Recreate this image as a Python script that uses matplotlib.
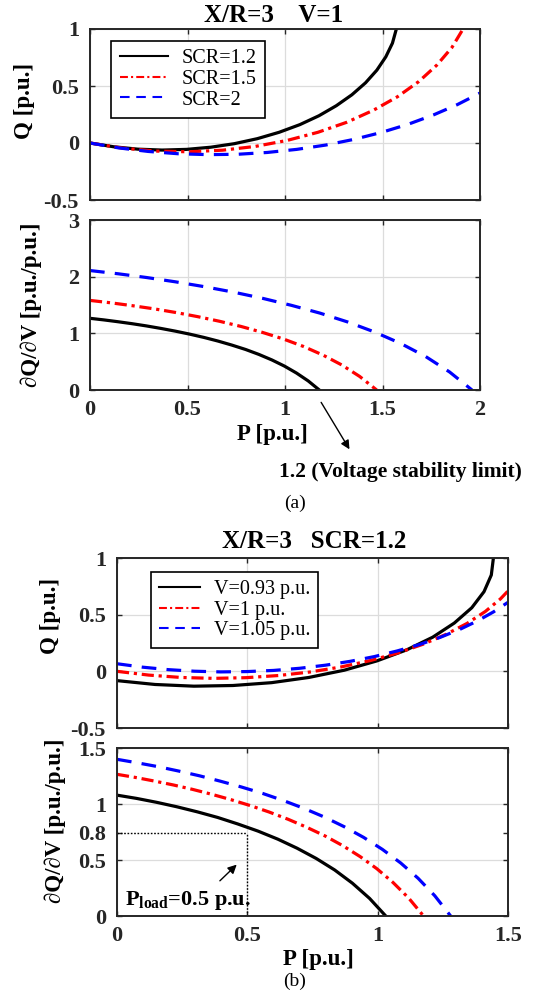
import matplotlib
matplotlib.use("Agg")
import matplotlib.pyplot as plt

plt.rcParams['font.family'] = ['Liberation Serif', 'DejaVu Serif']
plt.rcParams['mathtext.fontset'] = 'custom'
plt.rcParams['mathtext.rm'] = 'Liberation Serif'
plt.rcParams['mathtext.bf'] = 'Liberation Serif:bold'
plt.rcParams['axes.unicode_minus'] = False

# ---------------- data (a): X/R=3, V=1 ----------------
scr_labels = ['SCR=1.2', 'SCR=1.5', 'SCR=2']
P_q_scr12 = [0.000, 0.121, 0.245, 0.370, 0.495, 0.619, 0.740, 0.858, 0.970, 1.076, 1.174, 1.263, 1.343, 1.413, 1.471, 1.517, 1.551, 1.571]
Q_scr12 = [0.000, -0.033, -0.054, -0.062, -0.056, -0.037, -0.006, 0.038, 0.094, 0.161, 0.239, 0.327, 0.423, 0.528, 0.639, 0.756, 0.876, 1.000]
P_q_scr15 = [0.000, 0.166, 0.336, 0.508, 0.680, 0.848, 1.012, 1.169, 1.317, 1.453, 1.577, 1.686, 1.779, 1.856, 1.913]
Q_scr15 = [0.000, -0.045, -0.071, -0.077, -0.063, -0.030, 0.023, 0.094, 0.182, 0.287, 0.406, 0.539, 0.684, 0.838, 1.000]
P_q_scr2 = [0.000, 0.147, 0.298, 0.450, 0.603, 0.756, 0.909, 1.060, 1.209, 1.354, 1.495, 1.631, 1.761, 1.884, 2.000]
Q_scr2 = [0.000, -0.043, -0.074, -0.094, -0.102, -0.099, -0.083, -0.056, -0.018, 0.032, 0.093, 0.164, 0.246, 0.337, 0.438]

P_d_scr12 = [0.000, 0.071, 0.143, 0.216, 0.289, 0.363, 0.437, 0.511, 0.584, 0.656, 0.727, 0.798, 0.866, 0.933, 0.997, 1.059, 1.119, 1.176]
D_scr12 = [1.265, 1.237, 1.205, 1.170, 1.131, 1.087, 1.039, 0.986, 0.928, 0.864, 0.793, 0.715, 0.628, 0.530, 0.422, 0.299, 0.160, 0.000]
P_d_scr15 = [0.000, 0.108, 0.217, 0.329, 0.441, 0.553, 0.664, 0.775, 0.884, 0.991, 1.095, 1.195, 1.291, 1.383, 1.470]
D_scr15 = [1.581, 1.538, 1.488, 1.432, 1.367, 1.294, 1.213, 1.121, 1.017, 0.901, 0.768, 0.616, 0.442, 0.239, 0.000]
P_d_scr2 = [0.000, 0.144, 0.290, 0.438, 0.587, 0.737, 0.886, 1.033, 1.179, 1.321, 1.459, 1.593, 1.722, 1.844, 1.959]
D_scr2 = [2.108, 2.051, 1.985, 1.909, 1.823, 1.726, 1.617, 1.494, 1.357, 1.201, 1.024, 0.822, 0.589, 0.318, 0.000]

# ---------------- data (b): X/R=3, SCR=1.2 ----------------
v_labels = ['V=0.93 p.u.', 'V=1 p.u.', 'V=1.05 p.u.']
P_q_v093 = [0.000, 0.146, 0.295, 0.445, 0.593, 0.736, 0.872, 0.997, 1.111, 1.211, 1.294, 1.361, 1.408, 1.436, 1.444]
Q_v093 = [-0.082, -0.116, -0.131, -0.125, -0.100, -0.054, 0.010, 0.092, 0.189, 0.301, 0.426, 0.561, 0.703, 0.850, 1.000]
P_q_v100 = [0.000, 0.121, 0.245, 0.370, 0.495, 0.619, 0.740, 0.858, 0.970, 1.076, 1.174, 1.263, 1.343, 1.413, 1.471, 1.500]
Q_v100 = [0.000, -0.033, -0.054, -0.062, -0.056, -0.037, -0.006, 0.038, 0.094, 0.161, 0.239, 0.327, 0.423, 0.528, 0.639, 0.709]
P_q_v105 = [0.000, 0.097, 0.196, 0.297, 0.398, 0.500, 0.601, 0.701, 0.799, 0.894, 0.987, 1.075, 1.160, 1.239, 1.314, 1.382, 1.444, 1.500]
Q_v105 = [0.067, 0.037, 0.015, 0.001, -0.005, -0.002, 0.008, 0.027, 0.054, 0.088, 0.130, 0.180, 0.236, 0.299, 0.369, 0.444, 0.524, 0.609]

P_d_v093 = [0.000, 0.075, 0.152, 0.230, 0.308, 0.386, 0.463, 0.541, 0.617, 0.691, 0.764, 0.835, 0.903, 0.969, 1.031]
D_v093 = [1.079, 1.050, 1.015, 0.975, 0.930, 0.880, 0.822, 0.758, 0.686, 0.605, 0.514, 0.411, 0.293, 0.157, 0.000]
P_d_v100 = [0.000, 0.071, 0.143, 0.216, 0.289, 0.363, 0.437, 0.511, 0.584, 0.656, 0.727, 0.798, 0.866, 0.933, 0.997, 1.059, 1.119, 1.176]
D_v100 = [1.265, 1.237, 1.205, 1.170, 1.131, 1.087, 1.039, 0.986, 0.928, 0.864, 0.793, 0.715, 0.628, 0.530, 0.422, 0.299, 0.160, 0.000]
P_d_v105 = [0.000, 0.077, 0.156, 0.235, 0.316, 0.396, 0.477, 0.558, 0.638, 0.717, 0.795, 0.871, 0.946, 1.018, 1.088, 1.155, 1.219, 1.280]
D_v105 = [1.399, 1.368, 1.334, 1.295, 1.252, 1.204, 1.152, 1.095, 1.031, 0.961, 0.884, 0.798, 0.702, 0.595, 0.474, 0.337, 0.181, 0.000]

# annotation values
limit_P = 1.2
load_P = 0.5
load_D = 0.745
load_D_label = '0.8'

# ---------------- styles ----------------
LW = 2.3
styles = [dict(color='black', lw=LW, ls='-'),
          dict(color='#FF0000', lw=LW, ls=(0, (3.8, 1.5, 1.0, 1.5))),
          dict(color='#0000FF', lw=LW, ls=(0, (4.6, 3.2)))]
SPINE = '#262626'
TICKFS = 16
LABFS = 16.5

fig = plt.figure(figsize=(5.42, 10), dpi=100)
W, H = 542.0, 1000.0
def rect(x0, y0, x1, y1):
    return [x0 / W, 1 - y1 / H, (x1 - x0) / W, (y1 - y0) / H]

ax1 = fig.add_axes(rect(90, 29, 480, 200))
ax2 = fig.add_axes(rect(90, 220, 480, 390))
ax3 = fig.add_axes(rect(117, 558, 508, 728))
ax4 = fig.add_axes(rect(117, 748, 508, 916))

def style_ax(ax, xt, xtl, yt, ytl, xlim, ylim):
    ax.set_xlim(*xlim)
    ax.set_ylim(*ylim)
    ax.set_xticks(xt)
    ax.set_xticklabels(xtl)
    ax.set_yticks(yt)
    ax.set_yticklabels(ytl)
    ax.grid(True, color='#dcdcdc', lw=0.9)
    ax.set_axisbelow(True)
    for s in ax.spines.values():
        s.set_color(SPINE)
        s.set_linewidth(1.4)
    ax.tick_params(direction='in', top=True, right=True, length=3.5, width=1.0,
                   color=SPINE, labelsize=TICKFS, labelcolor='#262626')
    ax.tick_params(axis='y', pad=8)
    ax.tick_params(axis='x', pad=7)
    for lab in ax.get_xticklabels() + ax.get_yticklabels():
        lab.set_fontweight('bold')

xt_a = [0, 0.5, 1, 1.5, 2]
xtl_a = ['0', '0.5', '1', '1.5', '2']
style_ax(ax1, xt_a, [], [-0.5, 0, 0.5, 1], ['-0.5', '0', '0.5', '1'], (0, 2), (-0.5, 1))
style_ax(ax2, xt_a, xtl_a, [0, 1, 2, 3], ['0', '1', '2', '3'], (0, 2), (0, 3))
xt_b = [0, 0.5, 1, 1.5]
xtl_b = ['0', '0.5', '1', '1.5']
style_ax(ax3, xt_b, [], [-0.5, 0, 0.5, 1], ['-0.5', '0', '0.5', '1'], (0, 1.5), (-0.5, 1))
style_ax(ax4, xt_b, xtl_b, [0, 0.5, load_D, 1, 1.5], ['0', '0.5', load_D_label, '1', '1.5'], (0, 1.5), (0, 1.5))
ax4.yaxis.get_gridlines()[2].set_visible(False)

# ---- (a) curves
for P, Q, st, lab in zip([P_q_scr12, P_q_scr15, P_q_scr2], [Q_scr12, Q_scr15, Q_scr2], styles, scr_labels):
    ax1.plot(P, Q, label=lab, **st)
for P, D, st in zip([P_d_scr12, P_d_scr15, P_d_scr2], [D_scr12, D_scr15, D_scr2], styles):
    ax2.plot(P, D, **st)

# ---- (b) curves
for P, Q, st, lab in zip([P_q_v093, P_q_v100, P_q_v105], [Q_v093, Q_v100, Q_v105], styles, v_labels):
    ax3.plot(P, Q, label=lab, **st)
for P, D, st in zip([P_d_v093, P_d_v100, P_d_v105], [D_v093, D_v100, D_v105], styles):
    ax4.plot(P, D, **st)

def make_legend(ax, anchor, hl):
    leg = ax.legend(loc='upper left', bbox_to_anchor=anchor, borderaxespad=0,
                    fancybox=False, framealpha=1, edgecolor='black',
                    prop={'family': 'Liberation Serif', 'size': 14.5},
                    handlelength=hl, handletextpad=0.7, borderpad=0.4,
                    labelspacing=0.08)
    leg.get_frame().set_linewidth(1.2)
    for ln in leg.get_lines():
        ln.set_linewidth(1.5)
    return leg

make_legend(ax1, (0.055, 0.93), 2.4)
make_legend(ax3, (0.088, 0.919), 2.0)

# labels
ax1.set_ylabel('Q [p.u.]', fontsize=LABFS, fontweight='bold')
ax1.yaxis.set_label_coords(-0.142, 0.58)
ax2.set_ylabel('∂Q/∂V [p.u./p.u.]', fontsize=LABFS, fontweight='bold')
ax2.yaxis.set_label_coords(-0.124, 0.5)
ax2.set_xlabel('P [p.u.]', fontsize=LABFS, fontweight='bold')
ax2.xaxis.set_label_coords(0.469, -0.2)
ax3.set_ylabel('Q [p.u.]', fontsize=LABFS, fontweight='bold')
ax3.yaxis.set_label_coords(-0.1445, 0.66)
ax4.set_ylabel('∂Q/∂V [p.u./p.u.]', fontsize=LABFS, fontweight='bold')
ax4.yaxis.set_label_coords(-0.131, 0.565)
ax4.set_xlabel('P [p.u.]', fontsize=LABFS, fontweight='bold')
ax4.xaxis.set_label_coords(0.516, -0.196)

fig.text(274 / W, 1 - 15 / H, 'X/R=3    V=1', ha='center', va='center', fontsize=18, fontweight='bold')
fig.text(314 / W, 1 - 541 / H, 'X/R=3   SCR=1.2', ha='center', va='center', fontsize=18, fontweight='bold')

# annotation (a)
ax2.annotate('', xy=(1.338, -1.089), xytext=(1.178, -0.176),
             arrowprops=dict(arrowstyle='-|>', color='black', lw=1.0, mutation_scale=13),
             annotation_clip=False)
fig.text(279 / W, 1 - 471.7 / H, '%g (Voltage stability limit)' % limit_P, ha='left', va='center',
         fontsize=15.5, fontweight='bold')
fig.text(295 / W, 1 - 503 / H, '(a)', ha='center', va='center', fontsize=14)

# annotation (b)
ax4.plot([0, load_P], [load_D, load_D], color='black', lw=1.0, ls=(0, (1.2, 1.2)))
ax4.plot([load_P, load_P], [0, load_D], color='black', lw=1.0, ls=(0, (1.2, 1.2)))
ax4.annotate('', xy=(0.467, 0.476), xytext=(0.387, 0.297),
             arrowprops=dict(arrowstyle='-|>', color='black', lw=1.0, mutation_scale=13))
ax4.text(0.03, 0.134, r'$\mathbf{P}_{\mathbf{load}}$=%g p.u.' % load_P, ha='left', va='center',
         fontsize=16, fontweight='bold')
fig.text(295 / W, 1 - 981 / H, '(b)', ha='center', va='center', fontsize=14)

fig.savefig('out.png', dpi=100)
